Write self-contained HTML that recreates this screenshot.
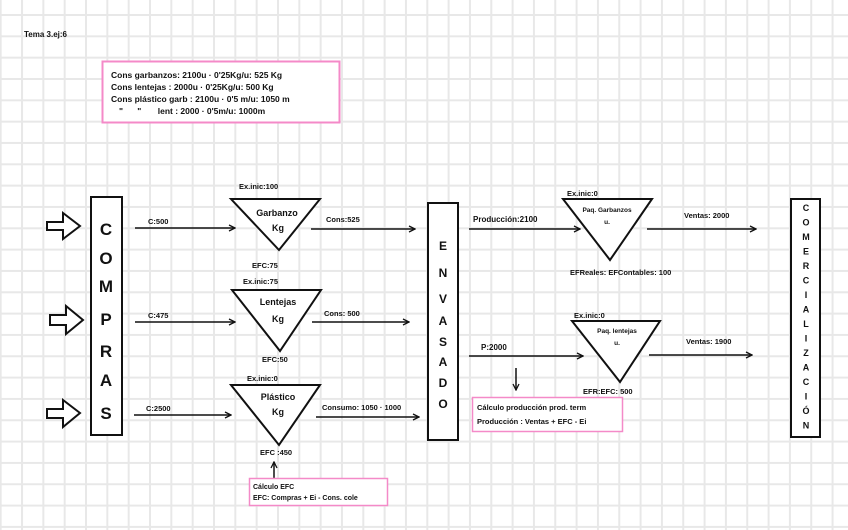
<!DOCTYPE html>
<html><head><meta charset="utf-8"><style>
html,body{margin:0;padding:0;background:#fff}
svg{display:block}
text{font-family:"Liberation Sans",sans-serif;font-weight:bold;fill:#111}
</style></head><body>
<svg width="848" height="530" viewBox="0 0 848 530" xmlns="http://www.w3.org/2000/svg">
<defs>
<pattern id="g" x="-0.3" y="14" width="21.33" height="21.33" patternUnits="userSpaceOnUse">
<path d="M1 0V21.33M0 1H21.33" stroke="#e8e8e8" stroke-width="2" fill="none"/>
</pattern>
<marker id="a" markerWidth="8" markerHeight="8" refX="7" refY="4" orient="auto" markerUnits="userSpaceOnUse">
<path d="M1 1L7 4L1 7" fill="none" stroke="#111" stroke-width="1.3"/>
</marker>
</defs>
<rect width="848" height="530" fill="#fff"/>
<rect width="848" height="530" fill="url(#g)"/>

<text x="24" y="37" font-size="8" font-weight="normal">Tema 3.ej:6</text>

<rect x="102.5" y="61.5" width="237" height="61" fill="#fff" stroke="#f48ac8" stroke-width="2"/>
<g font-size="8.5">
<text x="111" y="78">Cons garbanzos: 2100u · 0'25Kg/u: 525 Kg</text>
<text x="111" y="90">Cons lentejas : 2000u · 0'25Kg/u: 500 Kg</text>
<text x="111" y="102">Cons plástico garb : 2100u · 0'5 m/u: 1050 m</text>
<text x="119" y="114">"&#160;&#160;&#160;&#160;&#160;&#160;"&#160;&#160;&#160;&#160;&#160;&#160;&#160;lent : 2000 · 0'5m/u: 1000m</text>
</g>

<g fill="#fff" stroke="#111" stroke-width="2">
<path d="M47 222H63V213L80 226L63 239V230H47Z"/>
<path d="M50 315H66V306L83 320L66 334V325H50Z"/>
<path d="M47 409H63V400L80 413L63 427V418H47Z"/>
<rect x="91" y="197" width="31" height="238"/>
<rect x="428" y="203" width="30" height="237"/>
<rect x="791" y="199" width="29" height="238"/>
<path d="M231 199H320L279 250Z"/>
<path d="M232 290H321L280 351Z"/>
<path d="M231 385H320L279 445Z"/>
<path d="M563 199H652L610 260Z"/>
<path d="M572 321H660L620 382Z"/>
</g>

<g font-size="17" font-weight="normal" text-anchor="middle">
<text x="106" y="235">C</text><text x="106" y="264">O</text><text x="106" y="292">M</text>
<text x="106" y="325">P</text><text x="106" y="357">R</text><text x="106" y="386">A</text><text x="106" y="419">S</text>
</g>
<g font-size="12" font-weight="normal" text-anchor="middle">
<text x="443" y="250">E</text><text x="443" y="277">N</text><text x="443" y="303">V</text>
<text x="443" y="325">A</text><text x="443" y="346">S</text><text x="443" y="366">A</text>
<text x="443" y="387">D</text><text x="443" y="408">O</text>
</g>
<g font-size="9" font-weight="normal" text-anchor="middle">
<text x="806" y="211">C</text><text x="806" y="225.5">O</text><text x="806" y="240">M</text>
<text x="806" y="254.5">E</text><text x="806" y="269">R</text><text x="806" y="283.5">C</text>
<text x="806" y="298">I</text><text x="806" y="312.5">A</text><text x="806" y="327">L</text>
<text x="806" y="341.5">I</text><text x="806" y="356">Z</text><text x="806" y="370.5">A</text>
<text x="806" y="385">C</text><text x="806" y="399.5">I</text><text x="806" y="414">Ó</text><text x="806" y="428.5">N</text>
</g>

<g stroke="#111" stroke-width="1.5" marker-end="url(#a)">
<line x1="135" y1="228" x2="235" y2="228"/>
<line x1="135" y1="322" x2="235" y2="322"/>
<line x1="134" y1="415" x2="231" y2="415"/>
<line x1="311" y1="229" x2="415" y2="229"/>
<line x1="312" y1="322" x2="409" y2="322"/>
<line x1="316" y1="417" x2="419" y2="417"/>
<line x1="469" y1="229" x2="580" y2="229"/>
<line x1="647" y1="229" x2="756" y2="229"/>
<line x1="469" y1="356" x2="583" y2="356"/>
<line x1="649" y1="355" x2="752" y2="355"/>
<line x1="274" y1="478" x2="274" y2="462"/>
<line x1="516" y1="368" x2="516" y2="390"/>
</g>

<g font-size="7.5">
<text x="148" y="224">C:500</text>
<text x="148" y="318">C:475</text>
<text x="146" y="411">C:2500</text>
<text x="239" y="189">Ex.inic:100</text>
<text x="252" y="268">EFC:75</text>
<text x="243" y="284">Ex.inic:75</text>
<text x="262" y="362">EFC:50</text>
<text x="247" y="381">Ex.inic:0</text>
<text x="260" y="455">EFC :450</text>
<text x="326" y="222">Cons:525</text>
<text x="324" y="316">Cons: 500</text>
<text x="322" y="410">Consumo: 1050 · 1000</text>
<text x="473" y="222" font-size="8">Producción:2100</text>
<text x="481" y="350" font-size="8">P:2000</text>
<text x="567" y="196">Ex.inic:0</text>
<text x="574" y="318">Ex.inic:0</text>
<text x="570" y="275">EFReales: EFContables: 100</text>
<text x="583" y="394">EFR:EFC: 500</text>
<text x="684" y="218">Ventas: 2000</text>
<text x="686" y="344">Ventas: 1900</text>
</g>
<g font-size="9" font-weight="normal" text-anchor="middle">
<text x="277" y="216">Garbanzo</text><text x="278" y="231">Kg</text>
<text x="278" y="305">Lentejas</text><text x="278" y="322">Kg</text>
<text x="278" y="400">Plástico</text><text x="278" y="415">Kg</text>
</g>
<g font-size="6.5" text-anchor="middle">
<text x="607" y="212">Paq. Garbanzos</text><text x="607" y="224">u.</text>
<text x="617" y="333">Paq. lentejas</text><text x="617" y="345">u.</text>
</g>

<rect x="472.5" y="397.5" width="150" height="34" fill="#fff" stroke="#f48ac8" stroke-width="1.5"/>
<g font-size="7.5"><text x="477" y="410">Cálculo producción prod. term</text>
<text x="477" y="424">Producción : Ventas + EFC - Ei</text></g>

<rect x="249.5" y="478.5" width="138" height="27" fill="#fff" stroke="#f48ac8" stroke-width="1.5"/>
<g font-size="7"><text x="253" y="489">Cálculo EFC</text>
<text x="253" y="500">EFC: Compras + Ei - Cons. cole</text></g>
</svg>
</body></html>
